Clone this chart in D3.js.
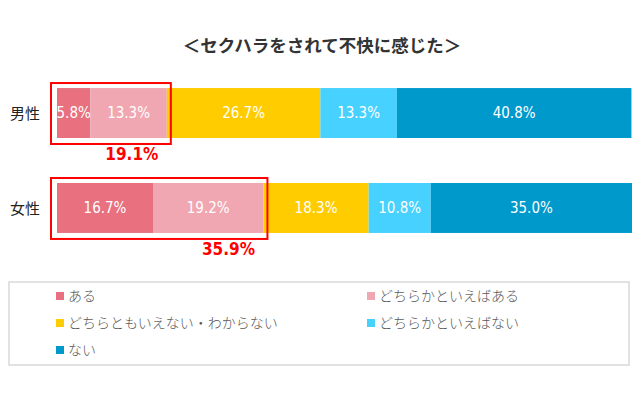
<!DOCTYPE html>
<html>
<head>
<meta charset="utf-8">
<script src="https://cdn.jsdelivr.net/npm/d3@7"></script>
<style>
  body { margin: 0; background: #fff; }
  svg { display: block; }
</style>
</head>
<body>
<svg id="chart" width="640" height="395"></svg>
<script>
// data
const groups = ['男性', '女性'];
const seriesNames = ['ある', 'どちらかといえばある', 'どちらともいえない・わからない', 'どちらかといえばない', 'ない'];
const maleValues = [5.8, 13.3, 26.7, 13.3, 40.8];
const femaleValues = [16.7, 19.2, 18.3, 10.8, 35.0];
const highlightTotals = ['19.1%', '35.9%'];
const colors = ['#E8707F', '#F0A7B1', '#FFCC00', '#47D1FF', '#0099CC'];

const svg = d3.select('#chart');
const jp = '"Noto Sans CJK JP", "Noto Sans", sans-serif';
const num = '"Liberation Sans Narrow", "DejaVu Sans Condensed", "Liberation Sans", sans-serif';

svg.append('text')
    .attr('x', 322).attr('y', 52)
    .attr('text-anchor', 'middle')
    .attr('font-family', jp).attr('font-size', 17.5).attr('font-weight', 'bold')
    .attr('fill', '#333')
    .text('＜セクハラをされて不快に感じた＞');

const x = d3.scaleLinear().domain([0, 100]).range([57, 632]);
const y = d3.scaleBand().domain(groups).range([70, 251]).paddingInner(0.474).paddingOuter(0.19);

const rows = [maleValues, femaleValues].map((vals, i) => {
    let acc = 0;
    return {
        group: groups[i],
        segs: vals.map((v, j) => {
            const s = { v: v, x0: acc, x1: acc + v, c: colors[j] };
            acc += v;
            return s;
        })
    };
});

rows.forEach((row, i) => {
    const g = svg.append('g');
    const top = y(row.group), h = y.bandwidth();

    g.selectAll('rect')
        .data(row.segs)
        .enter()
        .append('rect')
        .attr('x', d => x(d.x0))
        .attr('width', d => x(d.x1) - x(d.x0))
        .attr('y', top)
        .attr('height', h)
        .attr('fill', d => d.c);

    g.selectAll('text.val')
        .data(row.segs)
        .enter()
        .append('text')
        .attr('class', 'val')
        .attr('x', d => (x(d.x0) + x(d.x1)) / 2)
        .attr('y', top + h / 2 + 5)
        .attr('text-anchor', 'middle')
        .attr('font-family', num).attr('font-size', 15)
        .attr('fill', '#fff')
        .text(d => d.v.toFixed(1) + '%');

    svg.append('text')
        .attr('x', 25).attr('y', top + h / 2 + 6)
        .attr('text-anchor', 'middle')
        .attr('font-family', jp).attr('font-size', 15)
        .attr('fill', '#222')
        .text(row.group);

    // red highlight box around the first two segments
    const bx0 = x(0) - 6, bx1 = x(row.segs[1].x1) + 4;
    svg.append('rect')
        .attr('x', bx0).attr('y', top - 5)
        .attr('width', bx1 - bx0).attr('height', h + 11)
        .attr('fill', 'none')
        .attr('stroke', '#FF0000').attr('stroke-width', 2);

    svg.append('text')
        .attr('x', bx1 - 39).attr('y', top + h + 22)
        .attr('text-anchor', 'middle')
        .attr('font-family', num).attr('font-size', 17).attr('font-weight', 'bold')
        .attr('fill', '#FF0000')
        .text(highlightTotals[i]);
});

// legend
svg.append('rect')
    .attr('x', 9).attr('y', 282).attr('width', 620).attr('height', 83)
    .attr('fill', 'none').attr('stroke', '#D9D9D9').attr('stroke-width', 1.5);

const legend = svg.selectAll('g.leg')
    .data(seriesNames)
    .enter()
    .append('g')
    .attr('class', 'leg')
    .attr('transform', (d, i) => `translate(${i % 2 === 0 ? 56 : 367},${296 + Math.floor(i / 2) * 27})`);

legend.append('rect')
    .attr('x', 0).attr('y', -4).attr('width', 8).attr('height', 8)
    .attr('fill', (d, i) => colors[i]);

legend.append('text')
    .attr('x', 12).attr('y', 5)
    .attr('font-family', jp).attr('font-size', 14)
    .attr('font-weight', 300)
    .attr('fill', '#595959')
    .text(d => d);
</script>
</body>
</html>
